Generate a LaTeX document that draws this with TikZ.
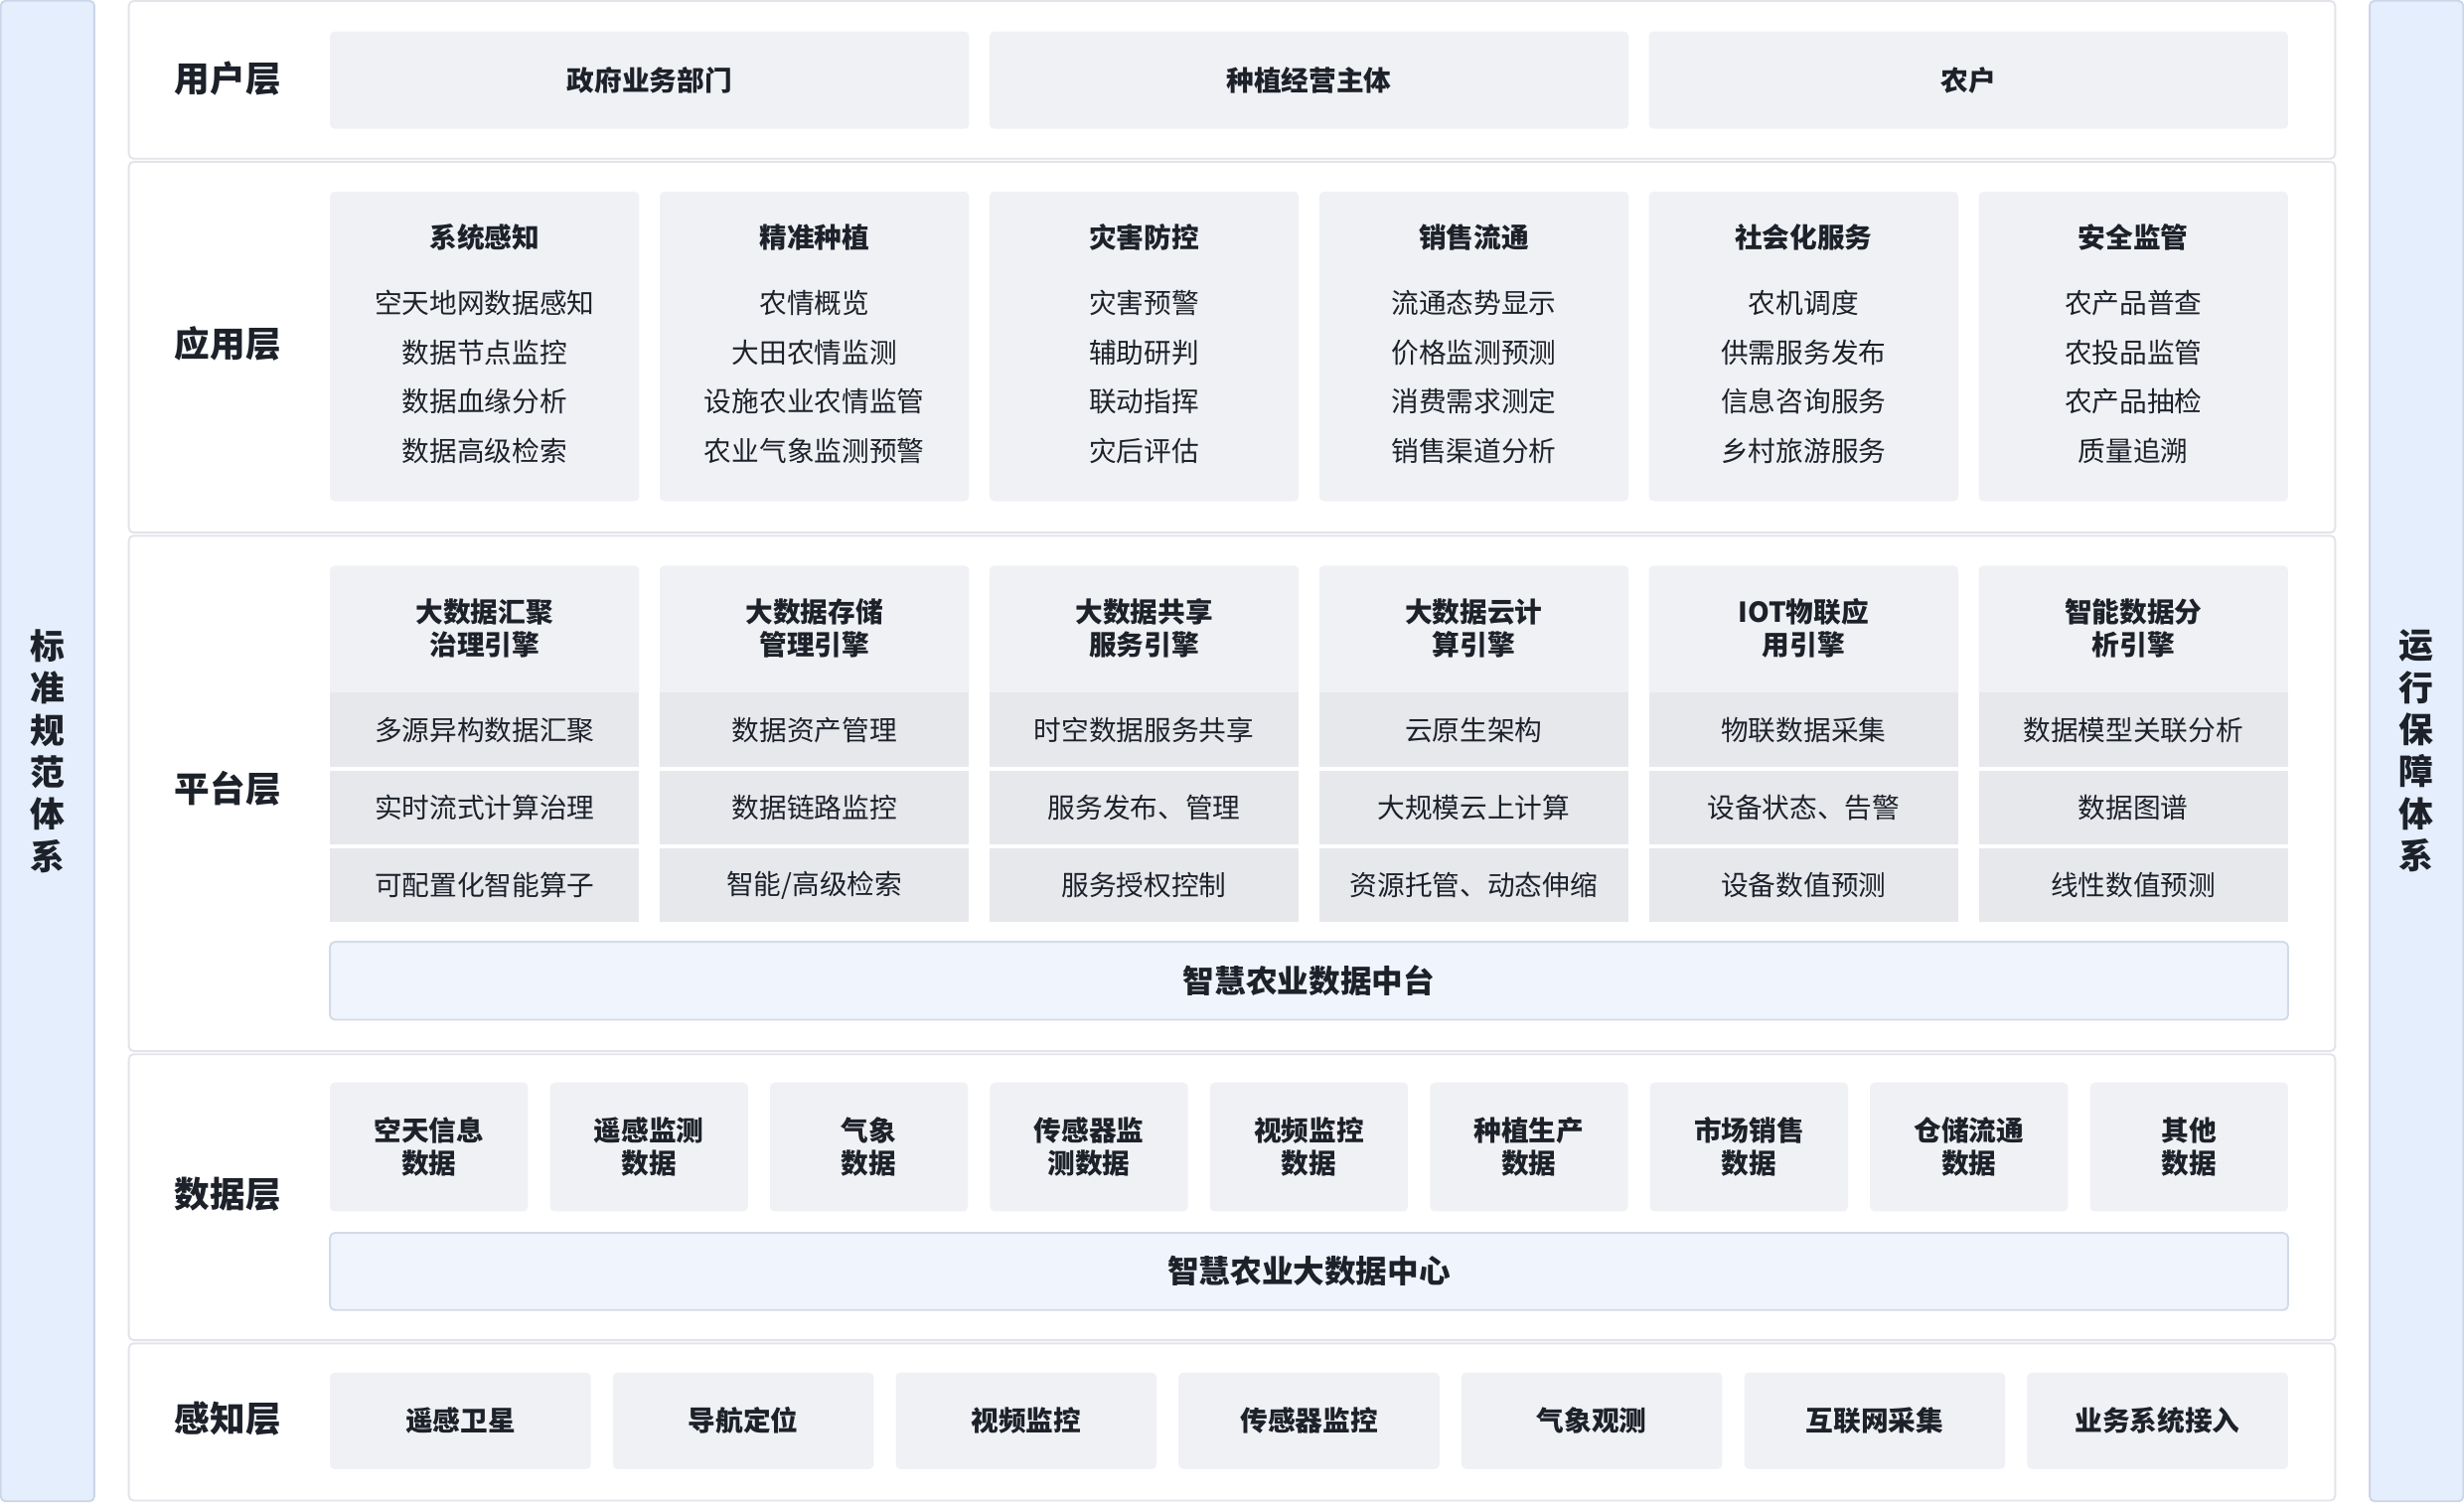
\documentclass[tikz,border=0pt]{standalone}
\usepackage{fontspec}
\setmainfont{Noto Sans CJK SC}
\definecolor{ink}{HTML}{1D2129}
\definecolor{panelline}{HTML}{E2E4E9}
\definecolor{boxfill}{HTML}{F0F1F5}
\definecolor{rowfill}{HTML}{E6E8EC}
\definecolor{barfill}{HTML}{EFF4FD}
\definecolor{barline}{HTML}{D3DBE8}
\definecolor{sidefill}{HTML}{E4EEFC}
\definecolor{sideline}{HTML}{CCD6E8}
\newcommand\mytsize{\fontsize{8.75}{10.5}\selectfont}
\newcommand\myisize{\fontsize{8.75}{15.67}\selectfont}
\newcommand\mycsize{\fontsize{10}{12}\selectfont}
\newcommand\mylsize{\fontsize{11.25}{13}\selectfont}
\newcommand\myssize{\fontsize{11}{13.4}\selectfont}
\newcommand\rbox[7]{\node[#6,minimum width={((#4)-(#2))*0.5pt},minimum height={((#5)-(#3))*0.5pt}] (#1) at ({((#2)+(#4))/2},{((#3)+(#5))/2}) {#7};}
\tikzset{
  panel/.style={draw=panelline,fill=white,line width=0.6pt,rounded corners=1.5pt,inner sep=0pt,outer sep=0pt},
  gbox/.style={fill=boxfill,rounded corners=1.5pt,inner sep=0pt,outer sep=0pt,text=ink,font=\mytsize\bfseries,align=center},
  rowbox/.style={fill=rowfill,inner sep=0pt,outer sep=0pt,text=ink,font=\mytsize},
  cbar/.style={fill=barfill,draw=barline,line width=0.6pt,rounded corners=1.5pt,inner sep=0pt,outer sep=0pt,text=ink,font=\mycsize\bfseries},
  side/.style={fill=sidefill,draw=sideline,line width=0.6pt,rounded corners=1.5pt,inner sep=0pt,outer sep=0pt,text=ink,font=\myssize\bfseries,align=center},
  lbl/.style={text=ink,font=\mylsize\bfseries,inner sep=0pt},
  ttl/.style={text=ink,font=\mytsize\bfseries,align=center,inner sep=0pt},
  itm/.style={text=ink,font=\myisize,align=center,inner sep=0pt},
}
\begin{document}
\begin{tikzpicture}[x=0.5pt,y=-0.5pt]
\useasboundingbox[fill=white] (0,0) rectangle (1568,956);
% side bars
\rbox{sl}{0.5}{0.5}{60}{955.5}{side}{标\\准\\规\\范\\体\\系}
\rbox{sr}{1508}{0.5}{1567.5}{955.5}{side}{运\\行\\保\\障\\体\\系}
% panels
\rbox{pu}{82}{0.6}{1486}{101}{panel}{}
\rbox{pa}{82}{103}{1486}{339}{panel}{}
\rbox{pp}{82}{341}{1486}{669}{panel}{}
\rbox{pd}{82}{671}{1486}{853}{panel}{}
\rbox{ps}{82}{855}{1486}{955}{panel}{}
% labels
\node[lbl] (lu) at (145,50) {用户层};
\node[lbl] (la) at (145,219) {应用层};
\node[lbl] (lp) at (145,502) {平台层};
\node[lbl] (ld) at (145,760) {数据层};
\node[lbl] (ls) at (145,903) {感知层};
% user layer
\rbox{u1}{210}{20}{616.67}{82}{gbox}{政府业务部门}
\rbox{u2}{629.67}{20}{1036.33}{82}{gbox}{种植经营主体}
\rbox{u3}{1049.33}{20}{1456}{82}{gbox}{农户}
% application layer
\rbox{a1}{210}{122}{406.83}{319}{gbox}{}
\rbox{a2}{419.83}{122}{616.67}{319}{gbox}{}
\rbox{a3}{629.67}{122}{826.5}{319}{gbox}{}
\rbox{a4}{839.5}{122}{1036.33}{319}{gbox}{}
\rbox{a5}{1049.33}{122}{1246.17}{319}{gbox}{}
\rbox{a6}{1259.17}{122}{1456}{319}{gbox}{}
\node[ttl] (a1t) at (308.4,151) {系统感知};
\node[ttl] (a2t) at (518.25,151) {精准种植};
\node[ttl] (a3t) at (728.1,151) {灾害防控};
\node[ttl] (a4t) at (937.9,151) {销售流通};
\node[ttl] (a5t) at (1147.75,151) {社会化服务};
\node[ttl] (a6t) at (1357.6,151) {安全监管};
\node[itm] (a1i) at (308.4,240) {空天地网数据感知\\数据节点监控\\数据血缘分析\\数据高级检索};
\node[itm] (a2i) at (518.25,240) {农情概览\\大田农情监测\\设施农业农情监管\\农业气象监测预警};
\node[itm] (a3i) at (728.1,240) {灾害预警\\辅助研判\\联动指挥\\灾后评估};
\node[itm] (a4i) at (937.9,240) {流通态势显示\\价格监测预测\\消费需求测定\\销售渠道分析};
\node[itm] (a5i) at (1147.75,240) {农机调度\\供需服务发布\\信息咨询服务\\乡村旅游服务};
\node[itm] (a6i) at (1357.6,240) {农产品普查\\农投品监管\\农产品抽检\\质量追溯};
% platform layer
\rbox{h1}{210}{360}{406.83}{444}{gbox}{}
\rbox{h2}{419.83}{360}{616.67}{444}{gbox}{}
\rbox{h3}{629.67}{360}{826.5}{444}{gbox}{}
\rbox{h4}{839.5}{360}{1036.33}{444}{gbox}{}
\rbox{h5}{1049.33}{360}{1246.17}{444}{gbox}{}
\rbox{h6}{1259.17}{360}{1456}{444}{gbox}{}
\node[ttl] (h1t) at (308.4,400) {大数据汇聚\\治理引擎};
\node[ttl] (h2t) at (518.25,400) {大数据存储\\管理引擎};
\node[ttl] (h3t) at (728.1,400) {大数据共享\\服务引擎};
\node[ttl] (h4t) at (937.9,400) {大数据云计\\算引擎};
\node[ttl] (h5t) at (1147.75,400) {IOT物联应\\用引擎};
\node[ttl] (h6t) at (1357.6,400) {智能数据分\\析引擎};
\rbox{r11}{210}{441}{406.83}{488}{rowbox}{多源异构数据汇聚}
\rbox{r12}{210}{490.5}{406.83}{537.5}{rowbox}{实时流式计算治理}
\rbox{r13}{210}{540}{406.83}{586.5}{rowbox}{可配置化智能算子}
\rbox{r21}{419.83}{441}{616.67}{488}{rowbox}{数据资产管理}
\rbox{r22}{419.83}{490.5}{616.67}{537.5}{rowbox}{数据链路监控}
\rbox{r23}{419.83}{540}{616.67}{586.5}{rowbox}{智能/高级检索}
\rbox{r31}{629.67}{441}{826.5}{488}{rowbox}{时空数据服务共享}
\rbox{r32}{629.67}{490.5}{826.5}{537.5}{rowbox}{服务发布、管理}
\rbox{r33}{629.67}{540}{826.5}{586.5}{rowbox}{服务授权控制}
\rbox{r41}{839.5}{441}{1036.33}{488}{rowbox}{云原生架构}
\rbox{r42}{839.5}{490.5}{1036.33}{537.5}{rowbox}{大规模云上计算}
\rbox{r43}{839.5}{540}{1036.33}{586.5}{rowbox}{资源托管、动态伸缩}
\rbox{r51}{1049.33}{441}{1246.17}{488}{rowbox}{物联数据采集}
\rbox{r52}{1049.33}{490.5}{1246.17}{537.5}{rowbox}{设备状态、告警}
\rbox{r53}{1049.33}{540}{1246.17}{586.5}{rowbox}{设备数值预测}
\rbox{r61}{1259.17}{441}{1456}{488}{rowbox}{数据模型关联分析}
\rbox{r62}{1259.17}{490.5}{1456}{537.5}{rowbox}{数据图谱}
\rbox{r63}{1259.17}{540}{1456}{586.5}{rowbox}{线性数值预测}
\rbox{pbar}{210}{599.5}{1456}{649}{cbar}{智慧农业数据中台}
% data layer
\rbox{d1}{210}{689}{336}{771}{gbox}{空天信息\\数据}
\rbox{d2}{350}{689}{476}{771}{gbox}{遥感监测\\数据}
\rbox{d3}{490}{689}{616}{771}{gbox}{气象\\数据}
\rbox{d4}{630}{689}{756}{771}{gbox}{传感器监\\测数据}
\rbox{d5}{770}{689}{896}{771}{gbox}{视频监控\\数据}
\rbox{d6}{910}{689}{1036}{771}{gbox}{种植生产\\数据}
\rbox{d7}{1050}{689}{1176}{771}{gbox}{市场销售\\数据}
\rbox{d8}{1190}{689}{1316}{771}{gbox}{仓储流通\\数据}
\rbox{d9}{1330}{689}{1456}{771}{gbox}{其他\\数据}
\rbox{dbar}{210}{784.7}{1456}{833.8}{cbar}{智慧农业大数据中心}
% perception layer
\rbox{s1}{210}{873.6}{376}{935}{gbox}{遥感卫星}
\rbox{s2}{390}{873.6}{556}{935}{gbox}{导航定位}
\rbox{s3}{570}{873.6}{736}{935}{gbox}{视频监控}
\rbox{s4}{750}{873.6}{916}{935}{gbox}{传感器监控}
\rbox{s5}{930}{873.6}{1096}{935}{gbox}{气象观测}
\rbox{s6}{1110}{873.6}{1276}{935}{gbox}{互联网采集}
\rbox{s7}{1290}{873.6}{1456}{935}{gbox}{业务系统接入}
\end{tikzpicture}
\end{document}
